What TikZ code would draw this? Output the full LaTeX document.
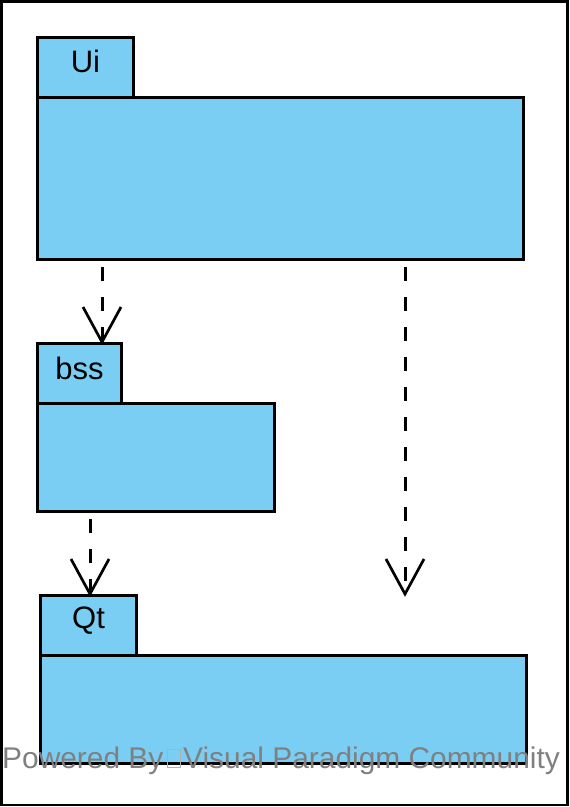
\documentclass[tikz,border=0pt]{standalone}
\usepackage{fontspec}
\setmainfont{Liberation Sans}
\definecolor{pkgblue}{RGB}{122,206,244}
\definecolor{wmgray}{RGB}{128,128,128}
\definecolor{boxgray}{RGB}{176,176,176}
\begin{document}
\begin{tikzpicture}[x=1pt,y=-1pt,
  pkg/.style={draw=black,fill=pkgblue,line width=3pt,rectangle,inner sep=0pt,anchor=north west},
  pkglabel/.style={anchor=base,font=\fontsize{31}{36}\selectfont,inner sep=0pt},
  dep/.style={draw=black,line width=3pt,dash pattern=on 14pt off 16pt},
  barb/.style={draw=black,line width=2.7pt,line join=miter},
  wm/.style={anchor=base west,inner sep=0pt,text=wmgray,font=\fontsize{29.9}{34}\selectfont}]
\useasboundingbox (0,0) rectangle (570,807);
\draw[line width=2.8pt] (1.4,1.4) rectangle (567.6,804.9);
% Ui package
\node[pkg,minimum width=96pt,minimum height=60pt] (uitab) at (36,36) {};
\node[pkg,minimum width=486pt,minimum height=162pt] (uibody) at (36,96) {};
\node[pkglabel] (uilbl) at ([yshift=-36]uitab.north) {Ui};
% bss package
\node[pkg,minimum width=84pt,minimum height=60pt] (bsstab) at (36,342) {};
\node[pkg,minimum width=237pt,minimum height=108pt] (bssbody) at (36,402) {};
\node[pkglabel] (bsslbl) at ([yshift=-37]bsstab.north) {bss};
% Qt package
\node[pkg,minimum width=96pt,minimum height=60pt] (qttab) at (39,594) {};
\node[pkg,minimum width=486pt,minimum height=108pt] (qtbody) at (39,654) {};
\node[pkglabel] (qtlbl) at ([yshift=-34]qttab.north) {Qt};
% dependencies
\coordinate (d1s) at ([shift={(66,6)}]uibody.south west);
\coordinate (d1e) at ([xshift=66]bsstab.north west);
\draw[dep] (d1s) -- (d1e);
\draw[barb] ([shift={(-19,-35)}]d1e) -- (d1e) -- ([shift={(19,-35)}]d1e);
\coordinate (d2s) at ([shift={(54,6)}]bssbody.south west);
\coordinate (d2e) at ([xshift=51]qttab.north west);
\draw[dep] (d2s) -- (d2e);
\draw[barb] ([shift={(-19,-35)}]d2e) -- (d2e) -- ([shift={(19,-35)}]d2e);
\coordinate (d3s) at ([shift={(369,6)}]uibody.south west);
\coordinate (d3e) at ([xshift=366]qttab.north west);
\draw[dep] (d3s) -- (d3e);
\draw[barb] ([shift={(-19,-35)}]d3e) -- (d3e) -- ([shift={(19,-35)}]d3e);
% watermark
\node[wm] (wm1) at (2,768) {Powered By};
\draw[boxgray,line width=1.1pt] (167.5,749.5) rectangle (180.5,767.5);
\node[wm] (wm2) at (183,768) {Visual Paradigm Community};
\end{tikzpicture}
\end{document}
